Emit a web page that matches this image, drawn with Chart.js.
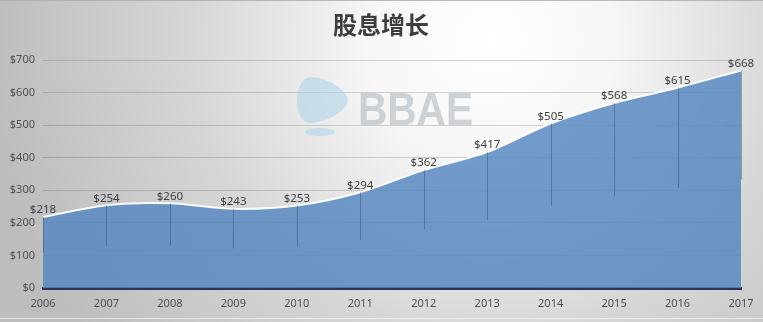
<!DOCTYPE html>
<html>
<head>
<meta charset="utf-8">
<script src="https://cdn.jsdelivr.net/npm/chart.js@4/dist/chart.umd.min.js"></script>
<style>
  html, body { margin: 0; padding: 0; background: #d8d8d8; }
  #wrap { width: 763px; height: 322px; position: relative; }
</style>
</head>
<body>
<div id="wrap"><canvas id="c" width="763" height="322"></canvas></div>
<script>
// Annual dividend per year
const years = ['2006','2007','2008','2009','2010','2011','2012','2013','2014','2015','2016','2017'];
const dividends = [218, 254, 260, 243, 253, 294, 362, 417, 505, 568, 615, 668];
const yTicks = [0, 100, 200, 300, 400, 500, 600, 700];
const chartTitle = '股息增长';
const watermark = 'BBAE';

const money = v => '$' + v;

// Soft grey radial backdrop, frame lines and the title
const backdrop = {
  id: 'backdrop',
  beforeDraw(chart) {
    const { ctx, width, height } = chart;
    ctx.save();
    const g = ctx.createRadialGradient(490, 40, 0, 490, 40, 500);
    g.addColorStop(0, '#ffffff');
    g.addColorStop(0.25, '#f6f6f6');
    g.addColorStop(0.6, '#d6d6d6');
    g.addColorStop(1, '#bdbdbd');
    ctx.fillStyle = g;
    ctx.fillRect(0, 0, width, height);
    ctx.fillStyle = 'rgba(170,170,170,0.8)';
    ctx.fillRect(0, 0, width, 1);
    ctx.fillStyle = 'rgba(255,255,255,0.55)';
    ctx.fillRect(0, height - 4, width, 1);
    ctx.font = 'bold 24px "Noto Sans CJK SC"';
    ctx.fillStyle = '#3d3d3d';
    ctx.textAlign = 'center';
    ctx.textBaseline = 'middle';
    ctx.fillText(chartTitle, 381, 25);
    ctx.restore();
  }
};

// Faint logo watermark behind the series
const logo = {
  id: 'logo',
  beforeDatasetsDraw(chart) {
    const { ctx } = chart;
    ctx.save();
    ctx.fillStyle = 'rgba(175,212,232,0.6)';
    ctx.beginPath();
    ctx.moveTo(312, 77);
    ctx.bezierCurveTo(330, 78, 348, 92, 348, 100);
    ctx.bezierCurveTo(348, 110, 328, 122, 311, 123);
    ctx.bezierCurveTo(292, 124, 292, 76, 312, 77);
    ctx.fill();
    ctx.beginPath();
    ctx.ellipse(320, 132, 15, 4, 0, 0, Math.PI * 2);
    ctx.fill();
    ctx.font = 'bold 46px "Liberation Sans"';
    ctx.fillStyle = 'rgba(190,196,202,0.75)';
    ctx.textBaseline = 'alphabetic';
    const w = ctx.measureText(watermark).width;
    ctx.translate(358, 125);
    ctx.scale(115 / w, 1);
    ctx.fillText(watermark, 0, 0);
    ctx.restore();
  }
};

// Thin drop lines under each point (down to half its value) and value labels
const pointMarks = {
  id: 'pointMarks',
  afterDatasetsDraw(chart) {
    const { ctx, scales: { x, y } } = chart;
    ctx.save();
    ctx.strokeStyle = 'rgba(60,70,90,0.45)';
    ctx.lineWidth = 1;
    dividends.forEach((v, i) => {
      const px = Math.round(x.getPixelForValue(i)) + 0.5;
      ctx.beginPath();
      ctx.moveTo(px, y.getPixelForValue(v));
      ctx.lineTo(px, y.getPixelForValue(v / 2));
      ctx.stroke();
    });
    ctx.font = '11.5px "Noto Sans"';
    ctx.fillStyle = '#404040';
    ctx.textAlign = 'center';
    ctx.textBaseline = 'middle';
    dividends.forEach((v, i) => {
      ctx.fillText(money(v), x.getPixelForValue(i), y.getPixelForValue(v) - 7);
    });
    ctx.restore();
  }
};

new Chart(document.getElementById('c'), {
  type: 'line',
  data: {
    labels: years,
    datasets: [{
      data: dividends,
      fill: 'origin',
      backgroundColor: 'rgba(84,133,192,0.82)',
      borderColor: 'rgba(255,255,255,0.95)',
      borderWidth: 2,
      tension: 0.3,
      pointRadius: 0
    }]
  },
  options: {
    responsive: false,
    animation: false,
    events: [],
    layout: { padding: { top: 60, left: 0, right: 22, bottom: 0 } },
    plugins: { legend: { display: false }, title: { display: false }, tooltip: { enabled: false } },
    scales: {
      x: {
        offset: false,
        grid: { display: false, drawTicks: false },
        border: { display: true, color: '#2c3650', width: 3 },
        ticks: {
          font: { family: 'Noto Sans', size: 11 },
          color: '#505050',
          padding: 9,
          maxRotation: 0,
          autoSkip: false
        },
        afterFit(s) { s.height = 34; }
      },
      y: {
        min: 0,
        max: 700,
        z: 1,
        afterBuildTicks(s) { s.ticks = yTicks.map(v => ({ value: v })); },
        grid: { color: 'rgba(70,70,80,0.22)', lineWidth: 1, drawTicks: false },
        border: { display: false },
        ticks: {
          font: { family: 'Noto Sans', size: 11 },
          color: '#505050',
          padding: 8,
          callback: v => money(v)
        },
        afterFit(s) { s.width = 43; }
      }
    }
  },
  plugins: [backdrop, logo, pointMarks]
});
</script>
</body>
</html>
